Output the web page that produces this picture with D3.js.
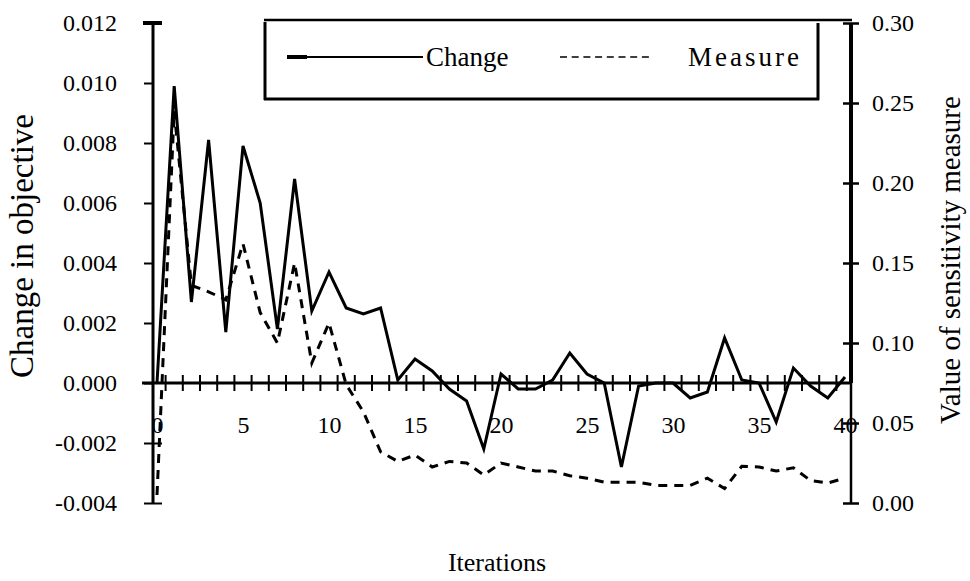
<!DOCTYPE html>
<html>
<head>
<meta charset="utf-8">
<script src="https://cdn.jsdelivr.net/npm/d3@7"></script>
<style>
  body { margin: 0; background: #fff; }
</style>
</head>
<body>
<div class="chart"></div>
<script>
// values
const iterations = [0, 1, 2, 3, 4, 5, 6, 7, 8, 9, 10, 11, 12, 13, 14, 15, 16, 17, 18, 19, 20,
  21, 22, 23, 24, 25, 26, 27, 28, 29, 30, 31, 32, 33, 34, 35, 36, 37, 38, 39, 40];
const change = [0, 0.0099, 0.0027, 0.0081, 0.0017, 0.0079, 0.0060, 0.0018, 0.0068, 0.0024,
  0.0037, 0.0025, 0.0023, 0.0025, 0.0001, 0.0008, 0.0004, -0.0002, -0.0006, -0.0022,
  0.0003, -0.0002, -0.0002, 0.0001, 0.0010, 0.0003, 0.0000, -0.0028, -0.0001, 0.0000,
  0.0000, -0.0005, -0.0003, 0.0015, 0.0001, 0.0000, -0.0013, 0.0005, -0.0001, -0.0005, 0.0002];
const measure = [0.005, 0.245, 0.136, 0.132, 0.127, 0.162, 0.119, 0.100, 0.150, 0.0875,
  0.1125, 0.074, 0.057, 0.032, 0.026, 0.030, 0.0225, 0.026, 0.025, 0.0175,
  0.025, 0.0225, 0.020, 0.020, 0.017, 0.0155, 0.013, 0.013, 0.013, 0.011,
  0.011, 0.011, 0.0155, 0.009, 0.023, 0.0225, 0.020, 0.022, 0.014, 0.0125, 0.0155];
const leftTicks = [-0.004, -0.002, 0, 0.002, 0.004, 0.006, 0.008, 0.010, 0.012];
const rightTicks = [0, 0.05, 0.10, 0.15, 0.20, 0.25, 0.30];
const xLabels = [0, 5, 10, 15, 20, 25, 30, 35, 40];
const seriesNames = ["Change", "Measure"];

const serif = '"Liberation Serif", "Times New Roman", Times, serif';

let svg = d3.select(".chart")
  .append("svg")
  .attr("width", 970)
  .attr("height", 581)
  .style("font-family", serif);

let x = d3.scaleLinear().domain([0, 40]).range([157, 845]);
let yL = d3.scaleLinear().domain([-0.004, 0.012]).range([503, 23]);
let yR = d3.scaleLinear().domain([0, 0.30]).range([503, 23]);

let leftAxisX = 153, rightAxisX = 851;
let zeroY = yL(0);

// left axis
let leftAxis = svg.append("g")
  .attr("transform", `translate(${leftAxisX},0)`)
  .call(d3.axisLeft(yL).tickValues(leftTicks).tickSizeInner(10).tickSizeOuter(0)
    .tickPadding(26).tickFormat(d => d.toFixed(3)));
leftAxis.attr("font-family", serif).attr("font-size", 24);
leftAxis.select(".domain").remove();
leftAxis.selectAll(".tick line")
  .attr("stroke-width", 2)
  .attr("x2", -9)
  .attr("x1", d => d < 0 ? 9 : -1);
svg.append("line")
  .attr("x1", leftAxisX).attr("x2", leftAxisX)
  .attr("y1", yL(0.012)).attr("y2", yL(-0.004))
  .attr("stroke", "#000").attr("stroke-width", 3);
svg.append("line")
  .attr("x1", 143).attr("x2", 162)
  .attr("y1", yL(0.012)).attr("y2", yL(0.012))
  .attr("stroke", "#000").attr("stroke-width", 4);

// right axis
let rightAxis = svg.append("g")
  .attr("transform", `translate(${rightAxisX},0)`)
  .call(d3.axisRight(yR).tickValues(rightTicks).tickSizeInner(8).tickSizeOuter(0)
    .tickPadding(13).tickFormat(d3.format(".2f")));
rightAxis.attr("font-family", serif).attr("font-size", 24);
rightAxis.select(".domain").remove();
rightAxis.selectAll(".tick line").attr("x1", -8).attr("stroke-width", 2.5);
svg.append("line")
  .attr("x1", rightAxisX).attr("x2", rightAxisX)
  .attr("y1", yR(0.30)).attr("y2", zeroY)
  .attr("stroke", "#000").attr("stroke-width", 4);
svg.append("line")
  .attr("x1", rightAxisX).attr("x2", rightAxisX)
  .attr("y1", zeroY).attr("y2", yR(0))
  .attr("stroke", "#000").attr("stroke-width", 2.5);

// bottom axis sits on zero of the left scale
let bottomAxis = svg.append("g")
  .attr("transform", `translate(0,${zeroY})`)
  .call(d3.axisBottom(x).tickValues(xLabels).tickSize(0).tickPadding(33));
bottomAxis.attr("font-family", serif).attr("font-size", 24);
bottomAxis.select(".domain").remove();
svg.append("line")
  .attr("x1", 142).attr("x2", rightAxisX)
  .attr("y1", zeroY).attr("y2", zeroY)
  .attr("stroke", "#000").attr("stroke-width", 3);
// tick marks between categories
let between = iterations.slice(1).map((d, i) => (d + iterations[i]) / 2);
svg.append("g").selectAll("line")
  .data(between)
  .join("line")
  .attr("x1", d => x(d)).attr("x2", d => x(d))
  .attr("y1", zeroY - 8).attr("y2", zeroY + 8)
  .attr("stroke", "#000").attr("stroke-width", 2);

// lines
let changeLine = d3.line().x((d, i) => x(iterations[i])).y(d => yL(d));
let measureLine = d3.line().x((d, i) => x(iterations[i])).y(d => yR(d));

svg.append("path")
  .datum(measure)
  .attr("d", measureLine)
  .attr("fill", "none")
  .attr("stroke", "#000")
  .attr("stroke-width", 3)
  .attr("stroke-dasharray", "9,7");

svg.append("path")
  .datum(change)
  .attr("d", changeLine)
  .attr("fill", "none")
  .attr("stroke", "#000")
  .attr("stroke-width", 3)
  .attr("stroke-linejoin", "miter");

// legend box
let legend = svg.append("g");
legend.append("line").attr("x1", 264).attr("x2", 852).attr("y1", 20).attr("y2", 20)
  .attr("stroke", "#000").attr("stroke-width", 2.5);
legend.append("line").attr("x1", 265).attr("x2", 265).attr("y1", 22).attr("y2", 100)
  .attr("stroke", "#000").attr("stroke-width", 3);
legend.append("line").attr("x1", 264).attr("x2", 819).attr("y1", 99).attr("y2", 99)
  .attr("stroke", "#000").attr("stroke-width", 3);
legend.append("line").attr("x1", 818).attr("x2", 818).attr("y1", 23).attr("y2", 100)
  .attr("stroke", "#000").attr("stroke-width", 3);

legend.append("line").attr("x1", 287).attr("x2", 423).attr("y1", 57).attr("y2", 57)
  .attr("stroke", "#000").attr("stroke-width", 2);
legend.append("line").attr("x1", 287).attr("x2", 307).attr("y1", 57).attr("y2", 57)
  .attr("stroke", "#000").attr("stroke-width", 4);
legend.append("text").attr("x", 426).attr("y", 66)
  .style("font-size", "27px").text(seriesNames[0]);
legend.append("line").attr("x1", 560).attr("x2", 651).attr("y1", 57).attr("y2", 57)
  .attr("stroke", "#000").attr("stroke-width", 1.5).attr("stroke-dasharray", "7,4.7");
legend.append("text").attr("x", 688).attr("y", 66)
  .style("font-size", "27px").style("letter-spacing", "3px").text(seriesNames[1]);

// axis titles
svg.append("text")
  .attr("transform", "translate(33,246) rotate(-90)")
  .attr("text-anchor", "middle")
  .style("font-size", "33px")
  .text("Change in objective");
svg.append("text")
  .attr("transform", "translate(960,260) rotate(-90)")
  .attr("text-anchor", "middle")
  .style("font-size", "29px")
  .text("Value of sensitivity measure");
svg.append("text")
  .attr("x", 497).attr("y", 571)
  .attr("text-anchor", "middle")
  .style("font-size", "26px")
  .text("Iterations");
</script>
</body>
</html>
